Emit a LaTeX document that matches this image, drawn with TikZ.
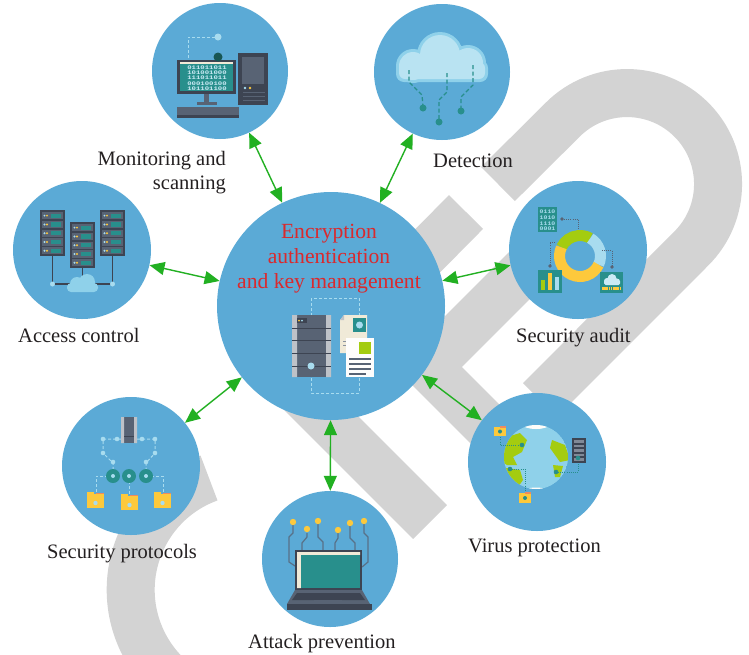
\documentclass[tikz,border=0pt]{standalone}
\usepackage{fontspec}
\usepackage{graphicx}
\setmainfont{Liberation Serif}
\setmonofont{Liberation Mono}
\usetikzlibrary{arrows.meta,positioning,calc}

\definecolor{hubblue}{RGB}{91,170,214}
\definecolor{markgray}{RGB}{211,211,211}
\definecolor{linkgreen}{RGB}{34,176,34}
\definecolor{keyred}{RGB}{218,41,45}
\definecolor{ink}{RGB}{35,31,32}
\definecolor{slate}{RGB}{88,99,116}
\definecolor{slatedark}{RGB}{61,68,82}
\definecolor{tealc}{RGB}{40,143,140}
\definecolor{paleblue}{RGB}{168,220,239}
\definecolor{cloudblue}{RGB}{143,209,234}
\definecolor{sun}{RGB}{253,201,60}
\definecolor{lime}{RGB}{164,204,16}
\definecolor{paper}{RGB}{240,234,216}
\definecolor{rail}{RGB}{190,194,200}
\definecolor{tab}{RGB}{240,138,93}

\tikzset{%
   hub/.style={
      circle,
      inner sep=0pt,
      fill=hubblue,
      minimum size=#1
   },
   lbl/.style={
      font=\fontsize{20.5}{24}\selectfont,
      text=ink,
      inner sep=0pt
   },
   keylbl/.style={
      font=\fontsize{21.6}{25}\selectfont,
      text=keyred,
      inner sep=0pt
   },
   twoway/.style={
      draw=linkgreen,
      line width=1.4pt,
      {Triangle[length=15pt,width=13pt]}-{Triangle[length=15pt,width=13pt]}
   },
   band/.style={
      draw=markgray,
      line width=48pt
   },
   wire/.style={
      draw=paleblue,
      line width=1pt,
      dash pattern=on 3pt off 2pt
   },
   tdash/.style={
      draw=tealc,
      line width=1.3pt,
      dash pattern=on 4pt off 2.5pt
   },
   dotline/.style={
      line width=0.9pt,
      dash pattern=on 0.9pt off 1.2pt
   },
   bits/.style={
      font=\fontsize{5.4}{5.4}\selectfont\ttfamily\bfseries,
      inner sep=0pt
   },
}
\newcommand\serverrack[2]{% top-left corner
  \fill[slatedark] (#1,#2) rectangle ++(25,46);
  \foreach \k in {0,...,4}{
    \fill[slate] (#1+2,#2+2+\k*8.8) rectangle ++(21,7.2);
    \fill[tealc] (#1+11,#2+3.5+\k*8.8) rectangle ++(10,4.2);
    \fill[sun] (#1+7,#2+5.6+\k*8.8) circle (1.1);
    \fill[paleblue] (#1+4.5,#2+5.6+\k*8.8) circle (1.1);
  }}
\newcommand\folder[2]{% top-left corner
  \fill[sun] (#1,#2-2) rectangle ++(7,3);
  \fill[tab] (#1+9,#2-1.5) rectangle ++(8,2.5);
  \fill[sun] (#1,#2) rectangle ++(17,14);
  \fill[paleblue] (#1+8.5,#2+9) circle (2.2);}

\begin{document}
\begin{tikzpicture}[x=1pt, y=-1pt]
   \useasboundingbox (0,0) rectangle (749,654);
   \fill[white] (0,0) rectangle (749,654);

   % chain mark
   \draw[band] (498,184) -- (562.7,119.7) arc[start angle=225, end angle=405, radius=91] -- (540,400);
   \draw[band, line join=miter] (466,212) -- (294,386) -- (430,522);
   \draw[band, line join=miter] (545,250) -- (428,367) -- (510,449);
   \draw[band] (209,478) arc[start angle=250, end angle=110, radius=119];

   % hubs
   \node[hub=228pt] (core) at (331,306) {};
   \node[hub=136pt] (monitor) at (220,71) {};
   \node[hub=136pt] (detect) at (442,72) {};
   \node[hub=138pt] (access) at (82,250) {};
   \node[hub=138pt] (audit) at (578,250) {};
   \node[hub=138pt] (proto) at (131,466) {};
   \node[hub=138pt] (virus) at (537,462) {};
   \node[hub=136pt] (attack) at (330,559) {};

   \foreach \t in {monitor,detect,access,audit,proto,virus,attack}
      \draw[twoway] (core) -- (\t);

   % desktop
   \draw[wire] (188,58) |- (215,37);
   \fill[paleblue] (218,37) circle (3.5);
   \fill[slatedark] (177,60) rectangle (236,94);
   \fill[tealc] (180,63) rectangle (233,91);
   \fill[paper] (180,61.5) rectangle (233,64);
   \foreach \r [count=\i] in {011011011,101001000,111011011,000100100,101101100}
      \node[bits, text=paleblue!60!white] (bitrow\i) at (207,62+\i*5.4) {\scalebox{1.35}[1]{\r}};
   \fill[tealc!60!black] (218,57) circle (4.5);
   \fill[slate] (204,94) rectangle (209,103);
   \fill[slate] (197,102) rectangle (217,105);
   \fill[slate] (177,107) rectangle (239,118);
   \fill[slatedark] (177,115) rectangle (239,118);
   \fill[slatedark] (238,53) rectangle (268,105);
   \fill[slate] (242,57) rectangle (264,84);
   \fill[paleblue] (245,88) circle (1.4);
   \fill[sun] (250,88) circle (1.4);
   \draw[slate, line width=0.8pt] (243,92) -- (265,92) (243,96) -- (265,96) (243,100) -- (265,100);

   % cloud
   \fill[cloudblue] (413,66) circle (17) (440,55) circle (23) (468,63) circle (18);
   \fill[cloudblue, rounded corners=8pt] (396,60) rectangle (488,82);
   \fill[paleblue!80!white] (413,66) circle (14) (440,55) circle (20) (468,63) circle (15);
   \fill[paleblue!80!white, rounded corners=6pt] (399,62) rectangle (485,79);
   \draw[tdash] (409,70) -- (409,82) -- (422,95) -- (423,106);
   \fill[tealc] (423,108) circle (3.5);
   \draw[tdash] (447,73) -- (447,92) -- (439,100) -- (439,119);
   \fill[tealc] (439,122) circle (3.5);
   \draw[tdash] (473,65) -- (473,85) -- (461,97) -- (461,108);
   \fill[tealc] (461,111) circle (3.5);

   % racks
   \draw[slatedark, line width=1.5pt] (52.5,256) -- (52.5,284) -- (72,284)
      (112.5,256) -- (112.5,284) -- (93,284) (82.5,268) -- (82.5,282);
   \fill[cloudblue] (77,284) circle (7) (87,282) circle (8);
   \fill[cloudblue, rounded corners=4pt] (67,283) rectangle (98,292);
   \fill[paleblue] (52.5,284) circle (2.5) (112.5,284) circle (2.5);
   \serverrack{40}{210}
   \serverrack{70}{222}
   \serverrack{100}{210}

   % audit
   \draw[lime, line width=11pt] (580,256) ++(-155:20.5) arc[start angle=-155, end angle=-60, radius=20.5];
   \draw[paleblue, line width=11pt] (580,256) ++(-60:20.5) arc[start angle=-60, end angle=25, radius=20.5];
   \draw[sun, line width=11pt] (580,256) ++(25:20.5) arc[start angle=25, end angle=205, radius=20.5];
   \draw[slate, dotline] (562,219) -- (578,219) -- (578,230)
      (555,242) -- (550,242) -- (550,266) (602,250) -- (612,250) -- (612,267);
   \fill[slate] (562,219) circle (1.8) (550,266) circle (1.8) (612,267) circle (1.8);
   \fill[tealc] (538,207) rectangle (557,232);
   \foreach \r [count=\i] in {0110,1010,1110,0001}
      \node[bits, text=paleblue] (gridrow\i) at (547.5,206.5+\i*5.6) {\scalebox{1.2}[1]{\r}};
   \fill[tealc] (538,270) rectangle (562,293);
   \fill[lime] (540.5,280) rectangle (544.5,290);
   \fill[sun] (547.5,273) rectangle (551.5,290);
   \fill[paleblue] (554.5,277) rectangle (558.5,290);
   \fill[tealc] (600,272) rectangle (623,293);
   \fill[paleblue!60!white] (607,281) circle (3) (612,278.5) circle (4.5) (617,281.5) circle (3);
   \fill[paleblue!60!white, rounded corners=1.5pt] (604,280) rectangle (620,285);
   \draw[sun, line width=3pt, dash pattern=on 1.5pt off 0.7pt] (602,288.5) -- (621,288.5);

   % vault
   \draw[wire] (311,298) rectangle (359,393);
   \fill[slate] (292,315) rectangle (331,377);
   \fill[rail] (292,315) rectangle (297,377) (326,315) rectangle (331,377);
   \draw[slatedark, line width=0.9pt] (292,328) -- (331,328) (292,340) -- (331,340)
      (292,353) -- (331,353) (292,366) -- (331,366);
   \fill[slatedark] (297,318) rectangle (307,323);
   \fill[sun] (299,320.5) circle (1);
   \fill[paleblue] (302,320.5) circle (1);
   \fill[paleblue] (311,366) circle (3.5);
   \fill[paper] (344,315) -- (367,315) -- (367,353) -- (340,353) -- (340,320) -- cycle;
   \fill[rail] (340,320) -- (344,320) -- (344,315) -- cycle;
   \fill[tealc] (353,318) rectangle (366,332);
   \fill[paleblue] (359.5,325) circle (3.5);
   \draw[slate!70, line width=1pt] (343,341) -- (353,341) (343,345) -- (353,345);
   \fill[white!92!paper] (346,338) rectangle (374,377);
   \fill[lime] (359,342) rectangle (371,354);
   \draw[slate, line width=1.5pt] (349,359) -- (371,359) (349,364) -- (371,364)
      (349,369) -- (371,369) (349,374) -- (366,374);

   % protocol tree
   \draw[wire] (121,439) -- (103,439) -- (103,453) -- (113,463) -- (113,476);
   \draw[wire] (137,439) -- (155,439) -- (155,453) -- (146,463) -- (146,476);
   \draw[wire] (113,476) -- (96,476) -- (96,500) (129,476) -- (129,502)
      (146,476) -- (163,476) -- (163,500);
   \fill[slate] (121,417) rectangle (137,443);
   \fill[rail] (121,417) rectangle (124,443) (134,417) rectangle (137,443);
   \draw[slatedark, line width=0.8pt] (124,436) -- (134,436);
   \foreach \p in {(117,439),(103,439),(103,453),(113,462),(142,439),(155,439),(155,453),(146,462)}
      \fill[paleblue] \p circle (2.3);
   \foreach \x in {113,129,146}{
      \fill[tealc] (\x,476) circle (7);
      \fill[paleblue] (\x,476) circle (2);
   }
   \folder{87}{494}
   \folder{121}{496}
   \folder{154}{494}

   % globe
   \begin{scope}
      \clip (536,457) circle (32);
      \fill[cloudblue] (536,457) circle (32);
      \fill[lime] (507,437) -- (520,433) -- (527,440) -- (522,452) -- (513,457) -- (517,465)
         -- (507,465) -- (495,457) -- (497,440) -- cycle;
      \fill[lime] (507,468) -- (520,470) -- (523,480) -- (518,487) -- (510,483) -- (500,470) -- cycle;
      \fill[lime] (552,440) -- (565,445) -- (570,460) -- (560,462) -- (555,455) -- (550,448) -- cycle;
      \fill[lime] (553,465) -- (563,466) -- (560,477) -- (555,477) -- cycle;
      \fill[white!85!paper] (536,424) ellipse (14 and 5);
      \fill[white!85!paper] (536,491) ellipse (12 and 3.5);
   \end{scope}
   \draw[tealc, dotline] (500,431) -- (500,445) -- (522,445)
      (510,469) -- (525,469) -- (525,497) (556,472) -- (578,472) -- (578,458);
   \fill[tealc] (522,445) circle (2.3) (510,469) circle (2.3) (556,472) circle (2.3);
   \fill[sun] (494,427) rectangle (506,436);
   \fill[tab] (500,425.5) rectangle (506,427.5);
   \fill[tealc] (500,431.5) circle (2);
   \fill[sun] (519,493) rectangle (531,503);
   \fill[tab] (525,491.5) rectangle (531,493.5);
   \fill[tealc] (525,498) circle (2);
   \fill[slatedark] (572,438) rectangle (586,463);
   \foreach \k in {0,...,4}
      \fill[slate!60!rail] (574,440+\k*4.6) rectangle ++(10,2.6);
   \fill[tealc] (578,458) circle (2.3);

   % laptop
   \draw[slate!80!hubblue, line width=1.2pt] (293,525) -- (293,533) -- (289,537) -- (289,562) -- (295,566)
      (307,533) -- (307,537) -- (302,543) -- (302,550)
      (318,524) -- (318,537) -- (323,542) -- (323,550)
      (338,533) -- (338,538) -- (335,543) -- (335,550)
      (350,526) -- (350,538) -- (355,543) -- (355,550)
      (364,524) -- (364,533) -- (368,537) -- (368,562) -- (362,567);
   \foreach \p in {(293,522),(307,529),(318,521),(338,530),(350,523),(364,521)}
      \fill[sun] \p circle (3.2);
   \fill[slatedark] (295,550) rectangle (362,590);
   \fill[paper] (297,552) rectangle (360,555) (297,552) rectangle (301,588);
   \fill[tealc] (301,555) rectangle (360,588);
   \fill[slate] (295,590) -- (362,590) -- (370,604) -- (287,604) -- cycle;
   \fill[slatedark] (297,593) -- (360,593) -- (365,600) -- (292,600) -- cycle;
   \fill[slate] (314,600) rectangle (342,602.5);
   \fill[slatedark] (287,604) rectangle (372,610);

   % labels
   \node[keylbl, anchor=base] (enc1) at (329,238) {Encryption};
   \node[keylbl, anchor=base] (enc2) at (329,263) {authentication};
   \node[keylbl, anchor=base] (enc3) at (329,288) {and key management};
   \node[lbl, anchor=base east] (monlbl) at (226,165) {Monitoring and};
   \node[lbl, anchor=base east] (monlbl2) at (226,189) {scanning};
   \node[lbl, anchor=base west] (detlbl) at (433,167) {Detection};
   \node[lbl, anchor=base west] (acclbl) at (18,342) {Access control};
   \node[lbl, anchor=base west] (audlbl) at (516,342) {Security audit};
   \node[lbl, anchor=base west] (prolbl) at (47,558) {Security protocols};
   \node[lbl, anchor=base west] (virlbl) at (468,552) {Virus protection};
   \node[lbl, anchor=base west] (attlbl) at (248,648) {Attack prevention};
\end{tikzpicture}
\end{document}
